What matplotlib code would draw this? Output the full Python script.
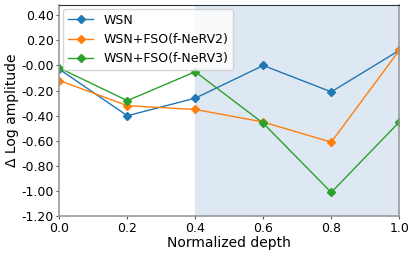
import numpy as np
import matplotlib
matplotlib.use("Agg")
import matplotlib.pyplot as plt
from matplotlib.ticker import FormatStrFormatter

# datos
depth = [0.0, 0.2, 0.4, 0.6, 0.8, 1.0]
wsn = [-0.03, -0.40, -0.26, 0.00, -0.21, 0.12]
wsn_nerv2 = [-0.12, -0.32, -0.35, -0.45, -0.61, 0.12]
wsn_nerv3 = [-0.02, -0.28, -0.05, -0.46, -1.01, -0.45]
labels = ["WSN", "WSN+FSO(f-NeRV2)", "WSN+FSO(f-NeRV3)"]

fig, ax = plt.subplots(figsize=(4.15, 2.56), dpi=100)

# zona sombreada
ax.axvspan(0.4, 1.0, color="#dee8f2", zorder=0)

for y, lab, c in zip([wsn, wsn_nerv2, wsn_nerv3], labels,
                     ["tab:blue", "tab:orange", "tab:green"]):
    ax.plot(depth, y, marker="D", markersize=4.5, lw=1.0, color=c, label=lab)

ax.set_xlim(0, 1.0)
ax.set_ylim(-1.2, 0.48)
ax.set_yticks(np.arange(-1.2, 0.41, 0.2))
ax.yaxis.set_major_formatter(FormatStrFormatter("%.2f"))
ax.xaxis.set_major_formatter(FormatStrFormatter("%.1f"))
ax.tick_params(labelsize=9, length=2.5, pad=1.5, color="#555555")
ax.set_xlabel("Normalized depth", fontsize=10, labelpad=1)
ax.set_ylabel("Δ Log amplitude", fontsize=10, labelpad=2)
for s in ["left", "bottom", "right"]:
    ax.spines[s].set_color("#999999")
    ax.spines[s].set_linewidth(1.2)
ax.spines["top"].set_color("#333333")
ax.legend(loc="upper left", fontsize=9, borderaxespad=0.3)

fig.subplots_adjust(left=0.143, right=0.962, top=0.98, bottom=0.155)
fig.savefig("out.png")
